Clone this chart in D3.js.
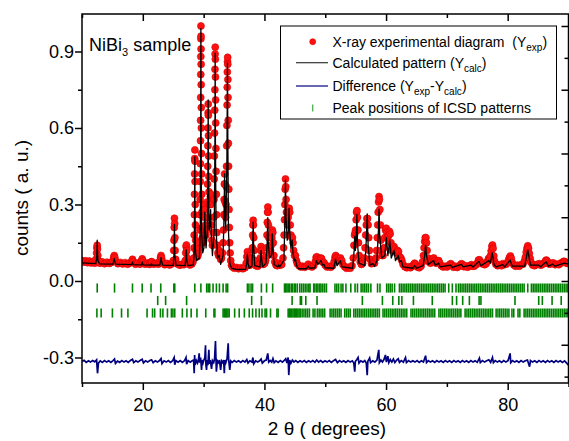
<!DOCTYPE html>
<html><head><meta charset="utf-8">
<script src="https://cdn.jsdelivr.net/npm/d3@7"></script>
<style>body{margin:0;background:#fff}svg{display:block}text{font-family:"Liberation Sans",Arial,sans-serif}</style>
</head><body><svg id="c" width="569" height="441"></svg>
<script>
// ---- data ----
const expPts = [
[10.0,0.08],[10.3,0.074],[10.6,0.079],[10.9,0.072],[11.2,0.078],[11.5,0.071],[11.8,0.076],[12.1,0.07],
[12.3,0.085],[12.4,0.11],[12.45,0.13],[12.5,0.14],[12.55,0.125],[12.6,0.1],[12.7,0.08],
[12.95,0.07],[13.3,0.075],[13.7,0.068],[14.1,0.074],[14.5,0.069],[14.85,0.073],
[15.1,0.08],[15.22,0.093],[15.3,0.1],[15.4,0.092],[15.55,0.078],
[15.9,0.068],[16.3,0.073],[16.7,0.067],[17.1,0.072],[17.5,0.066],[17.9,0.071],
[18.2,0.078],[18.3,0.085],[18.42,0.076],[18.8,0.066],[19.2,0.071],[19.55,0.066],
[19.8,0.08],[19.9,0.087],[20.0,0.079],[20.4,0.066],[20.8,0.071],[21.1,0.065],
[21.35,0.074],[21.45,0.076],[21.8,0.066],[22.2,0.07],[22.55,0.066],
[22.8,0.078],[22.92,0.092],[23.0,0.1],[23.1,0.09],[23.25,0.075],
[23.6,0.064],[24.0,0.069],[24.4,0.063],[24.75,0.067],
[25.0,0.08],[25.08,0.12],[25.12,0.16],[25.16,0.21],[25.2,0.246],[25.24,0.225],[25.28,0.17],[25.32,0.12],[25.4,0.085],
[25.75,0.066],[26.1,0.062],[26.45,0.066],[26.75,0.064],
[26.98,0.08],[27.06,0.11],[27.12,0.135],[27.17,0.141],[27.22,0.12],[27.3,0.09],[27.42,0.072],
[27.75,0.063],[28.05,0.067],[28.25,0.075],
[28.38,0.09],[28.42,0.13],[28.45,0.18],[28.48,0.26],[28.5,0.34],[28.52,0.42],[28.54,0.48],[28.56,0.514],[28.58,0.47],[28.6,0.39],[28.62,0.3],[28.65,0.22],[28.69,0.16],[28.74,0.12],[28.82,0.1],
[28.95,0.095],[29.05,0.1],[29.15,0.11],[29.25,0.13],
[29.32,0.15],[29.37,0.2],[29.4,0.26],[29.43,0.32],[29.45,0.39],[29.47,0.46],[29.49,0.55],[29.5,0.63],[29.52,0.72],[29.53,0.81],[29.54,0.88],[29.55,0.95],[29.56,1.0],[29.57,0.96],[29.58,0.91],[29.59,0.85],[29.6,0.77],[29.62,0.68],[29.63,0.6],[29.65,0.5],[29.67,0.42],[29.7,0.34],[29.73,0.27],[29.77,0.21],[29.82,0.17],[29.88,0.15],
[29.95,0.16],[30.05,0.2],[30.12,0.25],[30.18,0.3],[30.24,0.28],[30.3,0.22],[30.38,0.18],
[30.5,0.2],[30.56,0.25],[30.6,0.31],[30.64,0.38],[30.67,0.45],[30.7,0.53],[30.72,0.6],[30.74,0.66],[30.76,0.694],[30.78,0.65],[30.8,0.57],[30.82,0.49],[30.85,0.41],[30.88,0.35],
[30.95,0.3],[31.02,0.31],[31.1,0.33],[31.15,0.34],[31.2,0.3],[31.28,0.22],[31.36,0.16],[31.45,0.14],
[31.55,0.15],[31.62,0.19],[31.67,0.25],[31.71,0.32],[31.74,0.4],[31.77,0.49],[31.8,0.58],[31.83,0.67],[31.85,0.75],[31.87,0.83],[31.89,0.89],[31.91,0.917],[31.93,0.87],[31.95,0.8],[31.97,0.71],[31.99,0.62],[32.02,0.52],[32.05,0.43],[32.09,0.34],[32.13,0.26],[32.18,0.19],[32.25,0.14],[32.35,0.11],
[32.45,0.1],[32.55,0.12],[32.65,0.1],[32.8,0.085],[32.95,0.09],
[33.1,0.11],[33.2,0.15],[33.27,0.2],[33.32,0.26],[33.37,0.32],[33.41,0.38],[33.45,0.42],[33.49,0.38],[33.53,0.31],[33.58,0.26],[33.63,0.25],
[33.68,0.3],[33.73,0.37],[33.77,0.45],[33.8,0.53],[33.83,0.61],[33.86,0.69],[33.88,0.76],[33.9,0.82],[33.93,0.86],[33.95,0.877],[33.97,0.85],[33.99,0.79],[34.01,0.72],[34.04,0.63],[34.07,0.54],[34.1,0.45],[34.14,0.36],[34.18,0.28],[34.23,0.21],[34.29,0.15],[34.36,0.11],[34.45,0.08],[34.58,0.062],
[34.75,0.055],[35.05,0.05],[35.4,0.053],[35.75,0.048],[36.1,0.052],[36.45,0.048],[36.8,0.052],
[37.0,0.07],[37.1,0.095],[37.2,0.115],[37.3,0.1],[37.4,0.075],[37.6,0.062],[37.8,0.07],
[37.95,0.09],[38.02,0.13],[38.07,0.18],[38.11,0.22],[38.15,0.238],[38.19,0.22],[38.24,0.17],[38.3,0.12],[38.4,0.08],
[38.6,0.06],[38.9,0.058],[39.15,0.065],
[39.3,0.09],[39.38,0.12],[39.45,0.135],[39.52,0.12],[39.62,0.085],[39.8,0.065],[40.05,0.07],
[40.2,0.08],[40.28,0.1],[40.35,0.13],[40.42,0.18],[40.47,0.23],[40.52,0.27],[40.56,0.29],[40.6,0.27],[40.65,0.22],[40.72,0.17],[40.8,0.13],[40.9,0.11],[41.0,0.12],
[41.12,0.14],[41.22,0.17],[41.3,0.2],[41.38,0.19],[41.46,0.15],[41.56,0.1],[41.7,0.075],
[41.9,0.063],[42.1,0.06],[42.35,0.07],[42.6,0.062],[42.85,0.065],
[43.05,0.09],[43.15,0.13],[43.23,0.18],[43.3,0.24],[43.36,0.3],[43.41,0.36],[43.46,0.4],[43.51,0.37],[43.56,0.32],[43.62,0.27],[43.7,0.24],
[43.8,0.22],[43.9,0.25],[44.0,0.27],[44.08,0.285],[44.16,0.27],[44.25,0.22],[44.35,0.18],
[44.5,0.17],[44.6,0.17],[44.7,0.15],[44.8,0.12],[44.95,0.1],[45.1,0.1],[45.25,0.08],[45.4,0.068],
[45.7,0.06],[46.0,0.055],[46.3,0.058],[46.6,0.054],[46.9,0.058],[47.2,0.066],[47.5,0.058],[47.8,0.055],[48.1,0.06],
[48.35,0.075],[48.5,0.092],[48.6,0.095],[48.75,0.085],[49.05,0.08],[49.25,0.09],[49.4,0.088],[49.6,0.074],[49.8,0.072],[50.0,0.062],
[50.3,0.055],[50.6,0.058],[50.9,0.054],[51.2,0.06],
[51.45,0.075],[51.6,0.092],[51.72,0.1],[51.85,0.092],[52.0,0.08],[52.25,0.082],[52.5,0.09],[52.7,0.08],[52.9,0.065],
[53.2,0.056],[53.5,0.05],[53.8,0.054],[54.1,0.05],[54.4,0.06],
[54.6,0.09],[54.72,0.14],[54.82,0.18],[54.92,0.19],[55.0,0.2],[55.08,0.24],[55.15,0.27],[55.22,0.276],[55.3,0.25],[55.38,0.2],[55.47,0.15],[55.58,0.1],[55.75,0.075],
[55.95,0.065],[56.15,0.07],
[56.45,0.09],[56.55,0.13],[56.65,0.18],[56.75,0.22],[56.85,0.245],[56.95,0.245],[57.05,0.22],[57.15,0.17],[57.25,0.12],[57.38,0.085],
[57.6,0.068],[57.85,0.075],[58.1,0.07],
[58.35,0.09],[58.45,0.12],[58.55,0.17],[58.63,0.22],[58.7,0.27],[58.77,0.31],[58.84,0.331],[58.91,0.32],[58.98,0.28],[59.06,0.22],[59.14,0.16],[59.24,0.12],[59.35,0.1],
[59.5,0.1],[59.65,0.13],[59.78,0.17],[59.9,0.2],[60.02,0.207],[60.15,0.19],[60.28,0.17],[60.42,0.18],[60.55,0.195],[60.68,0.185],[60.8,0.15],[60.95,0.12],
[61.15,0.12],[61.3,0.135],[61.45,0.125],[61.7,0.11],[61.9,0.12],[62.05,0.115],[62.25,0.095],[62.45,0.09],[62.6,0.08],[62.8,0.065],
[63.1,0.056],[63.4,0.052],[63.7,0.056],[64.0,0.052],[64.3,0.058],[64.55,0.065],[64.7,0.07],[64.85,0.066],
[65.15,0.055],[65.45,0.052],[65.75,0.058],[66.0,0.075],
[66.15,0.1],[66.25,0.13],[66.35,0.155],[66.45,0.17],[66.55,0.17],[66.65,0.15],[66.75,0.12],[66.9,0.09],[67.05,0.075],
[67.3,0.07],[67.55,0.08],[67.7,0.088],[67.85,0.09],[68.0,0.08],[68.25,0.07],[68.5,0.078],[68.65,0.08],[68.8,0.072],
[69.1,0.06],[69.4,0.055],[69.7,0.058],[70.0,0.055],[70.3,0.06],[70.5,0.065],[70.65,0.068],[70.8,0.062],
[71.1,0.054],[71.4,0.058],[71.7,0.053],[72.0,0.058],[72.25,0.064],[72.4,0.068],[72.55,0.064],[72.8,0.056],[73.1,0.06],[73.4,0.054],[73.7,0.058],
[73.9,0.062],[74.05,0.064],[74.25,0.058],[74.5,0.058],[74.8,0.064],
[75.05,0.072],[75.2,0.082],[75.35,0.083],[75.5,0.074],[75.75,0.068],[75.95,0.07],[76.2,0.064],[76.45,0.068],
[76.7,0.078],[76.85,0.088],[77.0,0.088],[77.15,0.098],[77.28,0.118],[77.4,0.136],[77.5,0.141],[77.6,0.128],[77.72,0.098],[77.85,0.078],[78.05,0.066],
[78.35,0.06],[78.65,0.064],[78.95,0.06],[79.2,0.068],[79.45,0.064],[79.75,0.066],[80.0,0.073],
[80.15,0.083],[80.3,0.093],[80.45,0.098],[80.6,0.088],[80.75,0.073],
[81.0,0.063],[81.3,0.058],[81.6,0.062],[81.9,0.058],[82.2,0.064],[82.5,0.066],
[82.75,0.078],[82.9,0.093],[83.05,0.113],[83.17,0.128],[83.3,0.138],[83.43,0.128],[83.56,0.108],[83.7,0.088],[83.85,0.073],
[84.1,0.063],[84.4,0.06],[84.7,0.064],[85.0,0.066],[85.2,0.068],[85.45,0.062],[85.75,0.066],[86.0,0.07],
[86.2,0.078],[86.35,0.082],[86.5,0.078],[86.7,0.068],[86.95,0.066],[87.3,0.07],[87.5,0.071],[87.8,0.064],[88.1,0.066],[88.4,0.064],[88.7,0.07],
[89.0,0.073],[89.2,0.077],[89.4,0.076],[89.7,0.07],[90.0,0.068]
];
const calcPts = [
[10,0.071],[12.25,0.068],[12.4,0.085],[12.47,0.13],[12.5,0.16],[12.54,0.12],[12.62,0.08],[12.9,0.067],
[15.1,0.066],[15.25,0.08],[15.3,0.088],[15.36,0.08],[15.55,0.066],
[18.15,0.064],[18.3,0.074],[18.45,0.064],[19.75,0.063],[19.9,0.074],[20.05,0.063],
[21.3,0.062],[21.4,0.068],[21.5,0.062],[22.8,0.062],[22.92,0.078],[23.0,0.092],[23.08,0.078],[23.25,0.062],
[25.0,0.061],[25.12,0.1],[25.2,0.222],[25.27,0.1],[25.45,0.062],
[26.95,0.06],[27.08,0.085],[27.15,0.122],[27.22,0.085],[27.4,0.06],
[28.3,0.063],[28.45,0.11],[28.52,0.3],[28.55,0.487],[28.58,0.3],[28.65,0.12],[28.85,0.08],
[29.3,0.09],[29.45,0.2],[29.52,0.6],[29.55,0.99],[29.59,0.6],[29.66,0.2],[29.85,0.11],
[30.05,0.13],[30.15,0.22],[30.2,0.27],[30.25,0.2],[30.4,0.13],
[30.62,0.2],[30.71,0.45],[30.75,0.71],[30.79,0.45],[30.9,0.2],
[31.05,0.22],[31.15,0.28],[31.25,0.18],[31.45,0.1],
[31.75,0.2],[31.86,0.55],[31.9,0.893],[31.94,0.55],[32.05,0.2],[32.3,0.09],
[32.55,0.1],[32.8,0.065],[33.2,0.1],[33.35,0.25],[33.45,0.42],[33.5,0.3],[33.62,0.2],
[33.82,0.45],[33.92,0.855],[33.97,0.6],[34.08,0.2],[34.3,0.07],[34.6,0.05],
[35.5,0.045],[36.9,0.046],[37.1,0.07],[37.2,0.105],[37.3,0.07],[37.5,0.05],
[37.95,0.06],[38.07,0.14],[38.15,0.23],[38.22,0.14],[38.4,0.06],
[39.25,0.055],[39.38,0.09],[39.45,0.12],[39.52,0.09],[39.7,0.056],
[40.25,0.07],[40.45,0.15],[40.55,0.248],[40.63,0.15],[40.85,0.09],
[41.15,0.1],[41.3,0.185],[41.4,0.12],[41.6,0.065],[42.2,0.055],[42.35,0.063],[42.5,0.055],
[43.2,0.08],[43.38,0.25],[43.46,0.396],[43.54,0.25],[43.75,0.16],
[43.95,0.2],[44.05,0.285],[44.15,0.2],[44.35,0.13],[44.55,0.16],[44.7,0.11],
[44.95,0.08],[45.1,0.085],[45.3,0.06],[45.6,0.048],
[46.9,0.048],[47.2,0.058],[47.4,0.05],[48.3,0.052],[48.55,0.08],[48.8,0.065],[49.3,0.08],[49.55,0.062],[49.8,0.065],[50.0,0.052],
[51.4,0.05],[51.7,0.085],[51.95,0.06],[52.5,0.08],[52.75,0.055],
[54.5,0.05],[54.75,0.12],[54.85,0.175],[54.95,0.12],[55.12,0.18],[55.2,0.26],[55.3,0.15],[55.55,0.07],
[56.5,0.06],[56.75,0.16],[56.9,0.263],[57.05,0.14],[57.35,0.062],[57.85,0.068],[58.1,0.058],
[58.5,0.08],[58.75,0.2],[58.85,0.282],[58.95,0.18],[59.3,0.09],
[59.8,0.1],[60.05,0.17],[60.3,0.1],[60.6,0.16],[60.85,0.09],[61.3,0.12],[61.55,0.08],[62.0,0.1],[62.25,0.075],[62.5,0.08],[62.8,0.055],
[64.4,0.05],[64.7,0.06],[65.0,0.05],[66.1,0.06],[66.35,0.1],[66.5,0.14],[66.65,0.1],[66.95,0.065],
[67.8,0.08],[68.1,0.062],[68.65,0.07],[68.9,0.055],
[70.6,0.062],[70.9,0.053],[72.4,0.065],[72.7,0.055],[74.0,0.062],[74.3,0.055],
[75.27,0.077],[75.6,0.06],[76.9,0.08],[77.15,0.07],[77.47,0.11],[77.75,0.065],[78.1,0.055],
[79.2,0.064],[79.5,0.055],[80.4,0.082],[80.75,0.058],
[82.8,0.058],[83.3,0.122],[83.75,0.062],[85.1,0.062],[85.4,0.056],[86.35,0.075],[86.7,0.058],[87.4,0.066],[87.8,0.058],[89.3,0.07],[90,0.066]
];
const diffPts = [
[10.0,-0.316],[10.35,-0.311],[10.7,-0.319],[11.05,-0.313],[11.4,-0.318],[11.75,-0.312],[12.1,-0.317],[12.4,-0.309],[12.55,-0.362],[12.7,-0.322],[13.0,-0.313],[13.35,-0.319],[13.7,-0.312],[14.05,-0.318],[14.4,-0.313],[14.75,-0.319],[15.1,-0.312],[15.35,-0.306],[15.5,-0.323],[15.85,-0.314],[16.2,-0.319],[16.55,-0.312],[16.9,-0.318],[17.25,-0.313],[17.6,-0.319],[17.95,-0.312],[18.3,-0.307],[18.5,-0.32],[18.85,-0.313],[19.2,-0.318],[19.55,-0.312],[19.9,-0.307],[20.1,-0.321],[20.45,-0.313],[20.8,-0.318],[21.15,-0.312],[21.45,-0.309],[21.7,-0.32],[22.05,-0.313],[22.4,-0.318],[22.75,-0.312],[23.0,-0.304],[23.15,-0.324],[23.5,-0.313],[23.85,-0.318],[24.2,-0.312],[24.55,-0.319],[24.9,-0.313],[25.15,-0.3],[25.25,-0.328],[25.45,-0.312],[25.8,-0.318],[26.15,-0.312],[26.5,-0.319],[26.85,-0.313],[27.1,-0.3],[27.2,-0.326],[27.45,-0.312],[27.8,-0.318],[28.1,-0.313],[28.35,-0.31],[28.45,-0.362],[28.52,-0.29],[28.6,-0.33],[28.8,-0.312],[29.0,-0.322],[29.15,-0.308],[29.27,-0.284],[29.35,-0.32],[29.5,-0.3],[29.66,-0.349],[29.75,-0.31],[29.9,-0.322],[30.05,-0.31],[30.2,-0.3],[30.31,-0.252],[30.38,-0.33],[30.48,-0.349],[30.58,-0.31],[30.7,-0.33],[30.86,-0.27],[30.95,-0.325],[31.1,-0.31],[31.3,-0.345],[31.45,-0.312],[31.65,-0.32],[31.8,-0.305],[31.95,-0.235],[32.02,-0.3],[32.1,-0.356],[32.25,-0.313],[32.45,-0.32],[32.6,-0.31],[32.8,-0.349],[32.95,-0.313],[33.15,-0.32],[33.3,-0.31],[33.4,-0.362],[33.5,-0.31],[33.65,-0.32],[33.85,-0.305],[34.04,-0.244],[34.12,-0.31],[34.3,-0.349],[34.45,-0.313],[34.7,-0.319],[35.05,-0.312],[35.4,-0.318],[35.75,-0.313],[36.1,-0.319],[36.45,-0.312],[36.8,-0.318],[37.1,-0.308],[37.3,-0.322],[37.6,-0.313],[37.95,-0.318],[38.1,-0.3],[38.25,-0.325],[38.55,-0.313],[38.9,-0.318],[39.25,-0.312],[39.45,-0.306],[39.65,-0.322],[40.0,-0.313],[40.3,-0.31],[40.55,-0.284],[40.7,-0.318],[40.95,-0.312],[41.2,-0.318],[41.4,-0.304],[41.6,-0.32],[41.9,-0.313],[42.25,-0.319],[42.6,-0.312],[42.95,-0.318],[43.3,-0.31],[43.5,-0.305],[43.7,-0.322],[43.9,-0.3],[44.0,-0.369],[44.15,-0.31],[44.35,-0.322],[44.6,-0.31],[44.85,-0.318],[45.15,-0.312],[45.5,-0.319],[45.85,-0.313],[46.2,-0.318],[46.55,-0.312],[46.9,-0.319],[47.25,-0.313],[47.6,-0.318],[47.95,-0.312],[48.3,-0.319],[48.6,-0.31],[48.9,-0.318],[49.25,-0.312],[49.6,-0.319],[49.95,-0.313],[50.3,-0.318],[50.65,-0.312],[51.0,-0.319],[51.35,-0.313],[51.7,-0.308],[52.0,-0.32],[52.35,-0.312],[52.7,-0.318],[53.05,-0.313],[53.4,-0.319],[53.75,-0.312],[54.1,-0.318],[54.45,-0.313],[54.7,-0.322],[54.85,-0.356],[54.95,-0.315],[55.2,-0.308],[55.4,-0.3],[55.55,-0.322],[55.85,-0.313],[56.2,-0.318],[56.5,-0.312],[56.75,-0.322],[56.9,-0.369],[57.0,-0.315],[57.3,-0.302],[57.45,-0.32],[57.8,-0.313],[58.15,-0.318],[58.5,-0.31],[58.8,-0.27],[58.9,-0.32],[59.15,-0.31],[59.4,-0.318],[59.65,-0.308],[59.9,-0.29],[60.05,-0.318],[60.3,-0.295],[60.45,-0.32],[60.7,-0.308],[60.95,-0.318],[61.2,-0.306],[61.45,-0.32],[61.75,-0.31],[62.0,-0.305],[62.2,-0.319],[62.5,-0.312],[62.85,-0.318],[63.2,-0.3],[63.35,-0.32],[63.7,-0.312],[64.05,-0.318],[64.4,-0.313],[64.75,-0.318],[65.1,-0.312],[65.45,-0.319],[65.8,-0.313],[66.15,-0.318],[66.5,-0.293],[66.65,-0.32],[66.95,-0.312],[67.3,-0.318],[67.65,-0.313],[68.0,-0.319],[68.35,-0.312],[68.7,-0.318],[69.05,-0.313],[69.4,-0.319],[69.75,-0.312],[70.1,-0.318],[70.45,-0.313],[70.8,-0.319],[71.15,-0.312],[71.5,-0.318],[71.85,-0.313],[72.2,-0.319],[72.55,-0.312],[72.9,-0.318],[73.25,-0.313],[73.6,-0.319],[73.95,-0.312],[74.3,-0.318],[74.65,-0.313],[75.0,-0.319],[75.35,-0.302],[75.5,-0.32],[75.85,-0.312],[76.2,-0.318],[76.55,-0.313],[76.9,-0.309],[77.2,-0.319],[77.5,-0.3],[77.65,-0.32],[77.95,-0.312],[78.3,-0.318],[78.65,-0.313],[79.0,-0.319],[79.35,-0.312],[79.7,-0.318],[80.05,-0.313],[80.4,-0.284],[80.5,-0.32],[80.8,-0.312],[81.15,-0.318],[81.5,-0.313],[81.85,-0.319],[82.2,-0.312],[82.55,-0.318],[82.9,-0.313],[83.25,-0.31],[83.6,-0.336],[83.75,-0.312],[84.1,-0.318],[84.45,-0.313],[84.8,-0.319],[85.15,-0.312],[85.5,-0.318],[85.85,-0.313],[86.2,-0.319],[86.55,-0.312],[86.9,-0.318],[87.25,-0.313],[87.6,-0.319],[87.95,-0.312],[88.3,-0.318],[88.65,-0.313],[89.0,-0.319],[89.35,-0.313],[89.7,-0.322],[90.0,-0.33]
];
const peaksRow1 = [12.5,15.35,18.3,19.9,21.35,22.95,25.1,25.25,28.55,29.55,30.5,30.75,31.0,31.55,32.1,32.6,33.2,33.7,33.95,37.2,37.45,37.8,38.05,39.5,40.35,41.35,43.3,43.5,43.7,43.9,44.1,44.4,44.6,44.9,45.1,45.4,45.8,46.1,46.4,46.7,47.0,47.3,47.5,48.1,48.3,48.6,48.8,49.1,49.3,49.6,49.9,50.2,51.6,51.9,52.2,52.6,52.9,53.4,54.2,54.9,55.3,55.9,56.2,56.5,56.8,57.1,57.5,58.6,59.0,60.1,60.4,60.7,61.0,61.4,62.2,62.5,62.8,63.1,63.4,63.7,64.0,64.3,64.6,64.9,65.2,65.5,65.8,66.1,66.4,66.7,67.0,67.3,67.6,67.9,68.2,68.5,68.8,69.1,69.4,69.7,70.3,70.9,71.5,71.9,72.2,72.5,72.8,73.1,73.4,73.7,74.0,74.3,74.6,74.9,75.2,75.5,75.8,76.1,76.4,76.7,77.0,77.3,77.6,77.9,78.2,78.5,78.8,79.1,79.4,79.7,80.0,80.3,80.6,80.9,81.2,81.5,81.8,82.1,82.4,82.7,83.3,83.9,84.2,84.5,84.8,85.1,85.4,85.7,86.0,86.3,86.6,86.9,87.2,87.5,87.8,88.1,88.4,88.7,89.0,89.3,89.6,89.9];
const peaksRow2 = [22.45,23.75,27.2,37.9,39.5,44.55,45.9,46.1,46.8,48.65,56.1,59.4,61.1,62.1,62.6,64.5,67.6,70.9,71.6,72.6,73.7,75.3,75.6,81.2,85.1,85.7,87.3,88.8];
const peaksRow3 = [12.45,13.15,15.0,16.5,17.55,20.7,21.6,21.95,22.9,23.3,24.05,24.7,24.95,25.25,26.5,27.25,27.95,28.9,30.35,31.7,31.85,33.2,33.4,33.6,33.8,34.0,34.2,35.1,35.85,36.7,37.5,38.05,38.6,39.15,39.6,40.1,40.35,41.0,42.05,42.25,43.9,44.1,44.3,44.5,44.7,44.9,45.1,45.3,45.5,45.7,45.9,46.2,46.5,46.8,47.1,47.4,48.0,48.3,48.7,49.0,49.3,49.6,49.9,50.8,51.1,51.4,51.7,52.0,52.3,52.6,53.2,53.5,53.8,54.1,54.7,55.0,55.3,55.6,55.9,56.2,56.5,56.8,57.1,57.4,57.7,58.0,58.3,58.6,58.9,59.5,59.8,60.1,60.4,60.7,61.0,61.3,61.6,61.9,62.2,62.5,62.8,63.1,63.4,64.1,64.4,64.7,65.0,65.3,65.6,65.9,66.2,66.5,66.8,67.1,67.4,67.7,68.0,68.7,69.0,69.3,69.6,69.9,70.2,70.5,70.8,71.1,71.4,71.7,72.0,72.3,73.0,73.3,73.6,73.9,74.2,74.5,74.8,75.1,75.4,75.7,76.0,76.3,76.6,76.9,77.2,77.5,78.1,78.4,78.7,79.0,79.3,79.6,79.9,80.2,80.7,81.0,81.7,82.0,82.7,83.0,83.3,83.6,83.9,84.2,84.5,84.8,85.1,85.4,85.7,86.0,86.3,86.6,86.9,87.2,87.5,87.8,88.1,88.4,88.7,89.0,89.3,89.6,89.9];
const tickRowLevels = [-0.0275, -0.0765, -0.1255];
const xMajor = [20,40,60,80], xMinor = [10,30,50,70,90];
const yMajor = [-0.3,0,0.3,0.6,0.9], yMinor = [-0.15,0.15,0.45,0.75];
const rMajor = [-0.25,0,0.25,0.5,0.75,1.0], rMinor = [-0.375,-0.125,0.125,0.375,0.625,0.875];

// ---- drawing ----
const svg = d3.select('#c');
const L=82, R=568.5, T=14, B=383;
const x = d3.scaleLinear().domain([10,90]).range([L,R]);
const y = d3.scaleLinear().domain([-0.4,1.047]).range([B,T]);

svg.append('clipPath').attr('id','cp').append('rect').attr('x',L).attr('y',T).attr('width',R-L).attr('height',B-T);
const plot = svg.append('g').attr('clip-path','url(#cp)');

// peak position ticks
const rows=[peaksRow1,peaksRow2,peaksRow3];
rows.forEach((arr,i)=>{
  const lv=tickRowLevels[i];
  plot.append('g').selectAll('line').data(arr).join('line')
    .attr('x1',d=>x(d)).attr('x2',d=>x(d))
    .attr('y1',y(lv+0.018)).attr('y2',y(lv-0.018))
    .attr('stroke','#008000').attr('stroke-width',1.6);
});
// experimental points
plot.append('g').selectAll('circle').data(expPts).join('circle')
  .attr('cx',d=>x(d[0])).attr('cy',d=>y(d[1])).attr('r',3.5)
  .attr('fill','#ff1010').attr('stroke','#d80000').attr('stroke-width',0.6);
// calculated
const line=d3.line().x(d=>x(d[0])).y(d=>y(d[1]));
plot.append('path').datum(calcPts).attr('d',line).attr('fill','none').attr('stroke','#000').attr('stroke-width',1.3).attr('stroke-linejoin','round');
// difference
plot.append('path').datum(diffPts).attr('d',line).attr('fill','none').attr('stroke','#000080').attr('stroke-width',1.7);

// axes
function ax(gen, tr, vals, size, fmt, fs){
  const g = svg.append('g').attr('transform',tr)
    .call(gen.tickValues(vals).tickSize(size).tickPadding(fs?8:0).tickFormat(fmt||(()=>'')));
  g.select('.domain').remove();
  g.selectAll('line').attr('stroke','#000').attr('stroke-width',1.5);
  g.selectAll('text').attr('font-size',fs||10).attr('fill','#000').attr('font-family','"Liberation Sans",Arial,sans-serif');
  return g;
}
ax(d3.axisBottom(x), `translate(0,${B})`, xMajor, 7, d=>d, 18);
ax(d3.axisBottom(x), `translate(0,${B})`, xMinor, 4);
ax(d3.axisTop(x), `translate(0,${T})`, xMajor, -7);
ax(d3.axisTop(x), `translate(0,${T})`, xMinor, -4);
const gl = ax(d3.axisLeft(y), `translate(${L},0)`, yMajor, 7, d=>d.toFixed(1), 18);
gl.selectAll('text').attr('x',-8);
ax(d3.axisLeft(y), `translate(${L},0)`, yMinor, 4);
ax(d3.axisRight(y), `translate(${R},0)`, rMajor, -7);
ax(d3.axisRight(y), `translate(${R},0)`, rMinor, -4);
svg.append('rect').attr('x',L).attr('y',T).attr('width',R-L).attr('height',B-T)
  .attr('fill','none').attr('stroke','#000').attr('stroke-width',1.5);

// titles
svg.append('text').attr('x',327).attr('y',435).attr('text-anchor','middle').attr('font-size',19).text('2 \u03b8 ( degrees)');
svg.append('text').attr('transform','translate(28,198) rotate(-90)').attr('text-anchor','middle').attr('font-size',19).text('counts ( a. u.)');
const lab = svg.append('text').attr('x',89).attr('y',51).attr('font-size',18);
lab.append('tspan').text('NiBi');
lab.append('tspan').attr('font-size',11).attr('dy',5).text('3');
lab.append('tspan').attr('dy',-5).text(' sample');

// legend
const lg = svg.append('g');
lg.append('rect').attr('x',280.5).attr('y',26).attr('width',276).attr('height',93).attr('fill','#fff').attr('stroke','#000').attr('stroke-width',1);
lg.append('circle').attr('cx',312.7).attr('cy',41.7).attr('r',3).attr('fill','#ff1010').attr('stroke','#d80000').attr('stroke-width',0.6);
lg.append('line').attr('x1',296).attr('x2',328).attr('y1',62.7).attr('y2',62.7).attr('stroke','#333').attr('stroke-width',1.2);
lg.append('line').attr('x1',296).attr('x2',328).attr('y1',86).attr('y2',86).attr('stroke','#000080').attr('stroke-width',1.2);
lg.append('line').attr('x1',312.7).attr('x2',312.7).attr('y1',104.5).attr('y2',111.5).attr('stroke','#4cae4c').attr('stroke-width',1.3);
function legText(yb, parts){
  const t = lg.append('text').attr('x',332.5).attr('y',yb).attr('font-size',14);
  let sub=false;
  parts.forEach(p=>{
    const isSub = p.startsWith('_');
    const s = t.append('tspan').text(isSub?p.slice(1):p);
    if(isSub && !sub){ s.attr('dy',4).attr('font-size',10); sub=true; }
    else if(isSub){ s.attr('font-size',10); }
    else if(sub){ s.attr('dy',-4); sub=false; }
  });
}
legText(46.5, ['X-ray experimental diagram\u00a0\u00a0(Y','_exp',')']);
legText(68.3, ['Calculated pattern (Y','_calc',')']);
legText(90.7, ['Difference (Y','_exp','-Y','_calc',')']);
legText(112.7, ['Peak positions of ICSD patterns']);
</script></body></html>
